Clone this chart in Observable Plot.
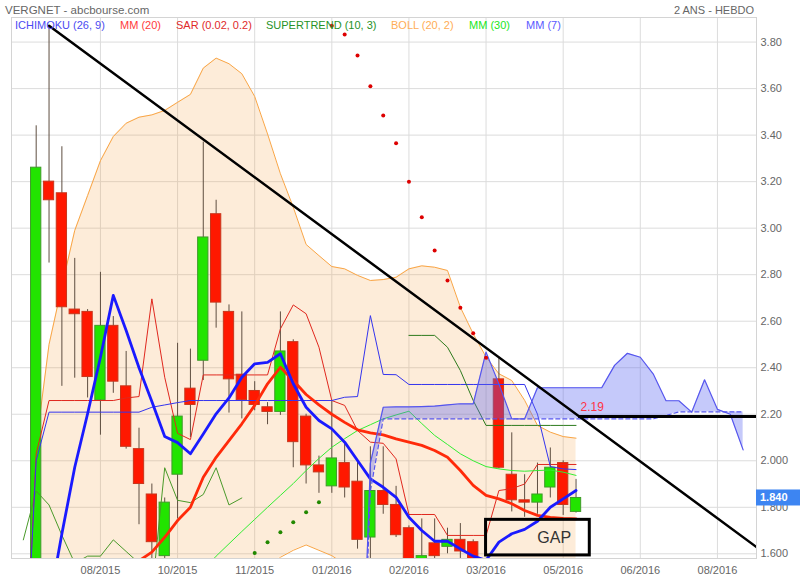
<!DOCTYPE html>
<html><head><meta charset="utf-8">
<script src="https://cdn.jsdelivr.net/npm/d3@7"></script>
<script src="https://cdn.jsdelivr.net/npm/@observablehq/plot@0.6"></script>
<style>body{margin:0;background:#fff}</style>
</head><body><div id="chart"></div>
<script>
// ---------- DATA (weekly candles, index 0 = first visible week) ----------
const openV  = [1.45,3.20,3.15,2.65,2.64,2.26,2.58,2.32,2.05,1.855,1.59,1.94,2.31,2.43,3.06,2.64,2.37,2.30,2.23,2.21,2.51,2.19,1.98,1.89,1.99,1.91,1.67,1.87,1.81,1.71,1.55,1.645,1.63,1.66,1.65,1.55,2.35,1.94,1.83,1.82,1.885,1.99,1.78];
const highV  = [3.44,3.87,3.35,2.87,2.65,2.81,2.62,2.47,2.14,1.90,1.84,2.505,2.48,3.37,3.12,2.67,2.64,2.34,2.25,2.64,2.52,2.20,2.02,2.26,2.07,2.00,2.06,2.06,1.89,1.72,1.75,1.75,1.71,1.73,1.66,1.56,2.445,2.12,1.94,1.99,2.055,2.00,1.92];
const lowV   = [1.40,2.85,2.32,2.355,2.27,2.11,2.29,2.05,1.725,1.57,1.58,1.75,2.10,2.345,2.57,2.205,2.18,2.215,2.155,2.195,1.97,1.90,1.86,1.86,1.84,1.62,1.58,1.77,1.67,1.54,1.53,1.56,1.60,1.58,1.54,1.40,1.965,1.78,1.757,1.77,1.84,1.765,1.775];
const closeV = [3.26,3.12,2.66,2.63,2.36,2.58,2.34,2.06,1.90,1.65,1.82,2.19,2.24,2.96,2.68,2.35,2.26,2.24,2.21,2.47,2.08,1.98,1.95,2.01,1.885,1.66,1.87,1.81,1.68,1.56,1.59,1.59,1.66,1.61,1.56,1.43,1.97,1.83,1.82,1.855,1.97,1.81,1.84];

// Ichimoku (26, 9)
const tenkanStart = -1;
const tenkan = [0.9,2.03,2.259,2.259,2.259,2.259,2.259,2.259,2.27,2.276,2.696,2.359,2.118,2.091,2.369,2.369,2.369,2.369,2.369,2.369,2.567,2.67,2.632,2.488,2.259,2.238,2.13,2.08,2.075,2.008,1.769,1.769,1.769,1.679,1.679,1.679,1.679,1.872,1.88,1.90,1.984,1.984,1.984,1.984];
const kijunStart = -1;
const kijun = [0.9,2.0,2.209,2.209,2.209,2.209,2.209,2.209,2.209,2.209,2.23,2.24,2.25,2.259,2.259,2.259,2.259,2.259,2.259,2.259,2.259,2.259,2.259,2.259,2.259,2.273,2.276,2.624,2.371,2.37,2.328,2.328,2.328,2.328,2.328,2.328,2.328,2.328,2.328,2.328,2.20,1.975,1.965,1.962];
const chikouShift = 26;
const senkouStart = 25;
const senkouA = [0.4,1.99,2.23,2.232,2.232,2.233,2.235,2.24,2.245,2.245,2.467,2.33,2.18,2.18,2.314,2.314,2.314,2.314,2.314,2.314,2.41,2.462,2.445,2.374,2.258,2.258,2.209,2.348,2.221,2.20,2.047];
const senkouB = [0.4,1.87,2.18,2.18,2.18,2.18,2.18,2.18,2.18,2.18,2.18,2.18,2.18,2.18,2.18,2.18,2.18,2.18,2.18,2.18,2.18,2.18,2.18,2.18,2.195,2.21,2.21,2.21,2.21,2.21,2.21];

// Moving averages
const mm20Start = -1;
const mm20 = [0.85,1.0,1.1,1.18,1.26,1.33,1.40,1.46,1.52,1.57,1.607,1.671,1.743,1.80,1.929,2.015,2.087,2.159,2.238,2.331,2.402,2.345,2.285,2.24,2.20,2.165,2.133,2.12,2.111,2.094,2.08,2.066,2.044,2.015,1.958,1.894,1.851,1.836,1.815,1.786,1.765,1.757,1.752,1.75];
const mm7Start = -1;
const mm7 = [0.9,1.1,1.38,1.686,1.972,2.202,2.445,2.711,2.56,2.40,2.255,2.104,2.078,2.03,2.115,2.202,2.27,2.359,2.417,2.423,2.46,2.331,2.23,2.173,2.137,2.08,2.001,1.922,1.886,1.843,1.757,1.70,1.654,1.654,1.621,1.59,1.572,1.65,1.686,1.705,1.74,1.80,1.836,1.872];
const mm30Start = 11;
const mm30 = [1.40,1.46,1.53,1.59,1.643,1.696,1.748,1.80,1.851,1.902,1.958,2.01,2.058,2.095,2.13,2.155,2.18,2.197,2.213,2.16,2.109,2.07,2.03,2.0,1.975,1.965,1.958,1.955,1.958,1.96,1.951,1.937];

// Bollinger (20, 2)
const bollUpper = [2.07,2.50,2.75,2.99,3.14,3.29,3.394,3.451,3.477,3.487,3.506,3.541,3.575,3.688,3.731,3.707,3.664,3.566,3.405,3.234,3.09,2.93,2.882,2.835,2.825,2.797,2.775,2.779,2.789,2.825,2.838,2.832,2.818,2.66,2.546,2.446,2.374,2.345,2.26,2.152,2.123,2.104,2.097];
const bollLower = [1.20,1.10,0.95,0.85,0.85,0.90,0.95,1.0,1.05,1.1,1.15,1.2,1.25,1.3,1.35,1.42,1.48,1.52,1.54,1.585,1.615,1.638,1.615,1.592,1.555,1.53,1.50,1.48,1.45,1.40,1.35,1.30,1.27,1.28,1.30,1.30,1.30,1.32,1.35,1.40,1.42,1.44,1.45];

// SAR (0.02, 0.2)
const sarStart = 17;
const sar = [1.603,1.65,1.693,1.736,1.779,1.822,3.87,3.833,3.742,3.61,3.484,3.365,3.20,3.047,2.904,2.775,2.658,2.548,2.443];

// Supertrend (10, 3)
const superStart = 29;
const supertrend = [2.539,2.539,2.539,2.488,2.388,2.259,2.152,2.152,2.152,2.152,2.152,2.152,2.152,2.152];

// Drawn annotations
const trendX = [1, 56.04];
const trendV = [3.87, 1.629];
const levelValue = 2.19;
const levelFrom = 42.2;
const gapBox = {x1: 35, x2: 43.07, y1: 1.593, y2: 1.746};
const gapLabel = {x: 40.3, y: 1.67, text: "GAP"};

// Axes
const xDomain = [-1.92, 56.04];
const yDomain = [1.5798, 3.9057];
const xTickIdx = [5, 11, 17, 23, 29, 35, 41, 47, 53];
const xTickLabels = ["08/2015","10/2015","11/2015","01/2016","02/2016","03/2016","05/2016","06/2016","08/2016"];
const yTickVals = [1.6, 1.8, 2.0, 2.2, 2.4, 2.6, 2.8, 3.0, 3.2, 3.4, 3.6, 3.8];
const yTickLabels = ["1.600","1.800","2.000","2.20","2.40","2.60","2.80","3.00","3.20","3.40","3.60","3.80"];

const legendItems = [
  {label: "ICHIMOKU (26, 9)", color: "#4b4bf2", x: 15},
  {label: "MM (20)", color: "#ff3b3b", x: 120},
  {label: "SAR (0.02, 0.2)", color: "#e02a2a", x: 176},
  {label: "SUPERTREND (10, 3)", color: "#279227", x: 266},
  {label: "BOLL (20, 2)", color: "#ffad55", x: 391},
  {label: "MM (30)", color: "#22e622", x: 469},
  {label: "MM (7)", color: "#5a5aff", x: 526}
];

// ---------- BUILD ----------
const series = (start, arr) => arr.map((v, k) => ({i: start + k, v}));
const candles = closeV.map((c, i) => ({i, open: openV[i], high: highV[i], low: lowV[i], close: c}));
const boll = bollUpper.map((u, i) => ({i, up: u, lo: bollLower[i]}));
const cloud = senkouA.map((a, k) => ({i: senkouStart + k, a, b: senkouB[k]}));
const chikou = candles.filter(d => d.i - chikouShift >= -1).map(d => ({i: d.i - chikouShift, v: d.close}));
const sarPts = series(sarStart, sar).map(d => ({...d, up: d.v < closeV[d.i]}));
const trend = trendX.map((x, k) => ({i: x, v: trendV[k]}));

const up = d => d.close >= d.open;

const svg = Plot.plot({
  width: 800, height: 580,
  marginTop: 17, marginBottom: 22, marginLeft: 11, marginRight: 44,
  style: {background: "white", fontFamily: "'Liberation Sans', Arial, sans-serif", fontSize: "11px", color: "#666", overflow: "visible"},
  x: {domain: xDomain, ticks: xTickIdx, tickFormat: d => xTickLabels[xTickIdx.indexOf(d)], tickSize: 0, tickPadding: 8, label: null},
  y: {domain: yDomain, axis: "right", ticks: yTickVals, tickFormat: d => yTickLabels[yTickVals.findIndex(t => Math.abs(t - d) < 1e-6)], tickSize: 0, tickPadding: 4, label: null},
  marks: [
    Plot.ruleY(yTickVals, {stroke: "#dcdcdc"}),
    Plot.ruleX(xTickIdx, {stroke: "#dcdcdc"}),
    Plot.frame({stroke: "#d4d4d4"}),
    // Bollinger
    Plot.areaY(boll, {x: "i", y1: "lo", y2: "up", fill: "#f5a142", fillOpacity: 0.2, clip: true}),
    Plot.line(boll, {x: "i", y: "up", stroke: "#f9a545", strokeWidth: 1, clip: true}),
    Plot.line(boll, {x: "i", y: "lo", stroke: "#f9a545", strokeWidth: 1, clip: true}),
    // candles
    Plot.ruleX(candles, {x: "i", y1: "low", y2: "high", stroke: "#5e4e40", strokeWidth: 1, clip: true}),
    Plot.rect(candles, {x1: d => d.i - 0.4, x2: d => d.i + 0.4, y1: "open", y2: "close",
      fill: d => up(d) ? "#22e400" : "#ff1800", stroke: d => up(d) ? "#3f9a2a" : "#c8361c", strokeWidth: 1, clip: true}),
    // Ichimoku lines
    Plot.line(chikou, {x: "i", y: "v", stroke: "#4a9a2a", strokeWidth: 1, clip: true}),
    Plot.line(series(tenkanStart, tenkan), {x: "i", y: "v", stroke: "#e0281e", strokeWidth: 1, clip: true}),
    Plot.line(series(kijunStart, kijun), {x: "i", y: "v", stroke: "#3434ee", strokeWidth: 1, clip: true}),
    // Supertrend
    Plot.line(series(superStart, supertrend), {x: "i", y: "v", stroke: "#2d7a1d", strokeWidth: 1, clip: true}),
    // moving averages
    Plot.line(series(mm30Start, mm30), {x: "i", y: "v", stroke: "#33ee33", strokeWidth: 1, clip: true}),
    Plot.line(series(mm20Start, mm20), {x: "i", y: "v", stroke: "#ff2a0a", strokeWidth: 2.8, clip: true}),
    Plot.line(series(mm7Start, mm7), {x: "i", y: "v", stroke: "#1a1aff", strokeWidth: 2.8, clip: true}),
    // Ichimoku cloud
    Plot.areaY(cloud, {x: "i", y1: "b", y2: "a", fill: "#5a64f0", fillOpacity: 0.35, clip: true}),
    Plot.line(cloud, {x: "i", y: "a", stroke: "#5555ee", strokeWidth: 1.2, clip: true}),
    Plot.line(cloud, {x: "i", y: "b", stroke: "#5555ee", strokeWidth: 1.2, strokeDasharray: "4,3", clip: true}),
    // SAR
    Plot.dot(sarPts, {x: "i", y: "v", r: 2, fill: d => d.up ? "#228800" : "#dd0000", stroke: null, clip: true}),
    // annotations
    Plot.line(trend, {x: "i", y: "v", stroke: "black", strokeWidth: 2.5, clip: true}),
    Plot.ruleY([levelValue], {x1: levelFrom, x2: xDomain[1], stroke: "black", strokeWidth: 3}),
    Plot.text([levelValue], {x: levelFrom, y: d => d, text: d => d3.format(".2f")(d), dx: 2, dy: -9, textAnchor: "start", fill: "#ff3344", fontSize: 12}),
    Plot.rect([gapBox], {x1: "x1", x2: "x2", y1: "y1", y2: "y2", fill: "none", stroke: "black", strokeWidth: 3}),
    Plot.text([gapLabel], {x: "x", y: "y", text: "text", fill: "#333", fontSize: 16})
  ]
});

document.getElementById("chart").appendChild(svg);
const root = d3.select(svg);
const addText = (x, y, txt, color, size, anchor = "start", weight = "normal") =>
  root.append("text").attr("x", x).attr("y", y).attr("fill", color).attr("font-size", size)
    .attr("text-anchor", anchor).attr("font-weight", weight).text(txt);

addText(5, 13.5, "VERGNET - abcbourse.com", "#666", 11.5);
addText(754, 13.5, "2 ANS - HEBDO", "#666", 11, "end");
legendItems.forEach(d => addText(d.x, 29, d.label, d.color, 11));

// last price tag on the right axis
const lastClose = closeV[closeV.length - 1];
const yLast = svg.scale("y").apply(lastClose);
root.append("rect").attr("x", 756).attr("y", yLast - 8).attr("width", 44).attr("height", 16).attr("fill", "#3d85f2");
addText(760, yLast + 4, d3.format(".3f")(lastClose), "white", 11, "start", "bold");
</script></body></html>
